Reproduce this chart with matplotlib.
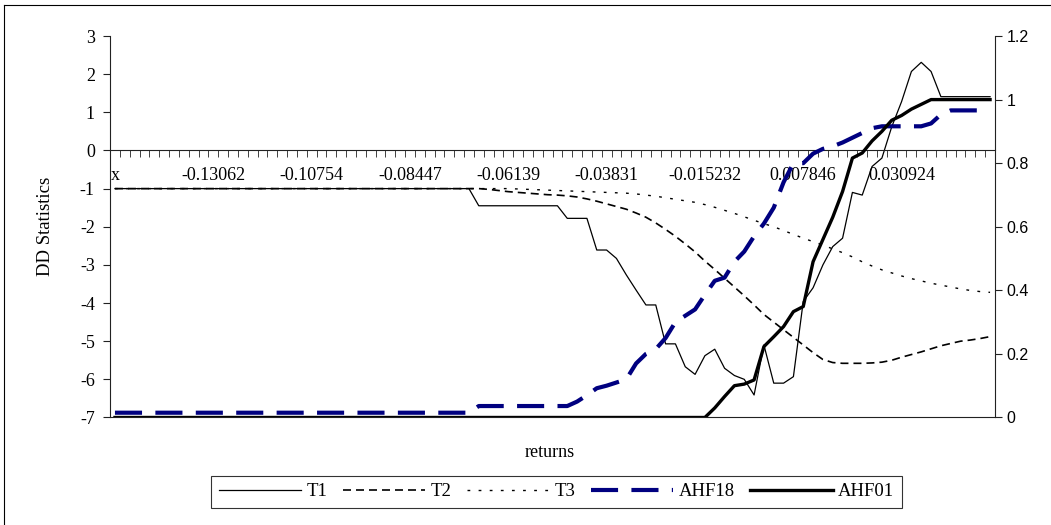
import matplotlib
matplotlib.use("Agg")
import matplotlib.pyplot as plt
from matplotlib.lines import Line2D
import numpy as np

# category labels shown every 10th category
x_labels = ["x", "-0.13062", "-0.10754", "-0.08447", "-0.06139",
            "-0.03831", "-0.015232", "0.007846", "0.030924"]

# DD statistics (left axis)
t1 = ([-1.0] * 37 + [-1.45] * 9 + [-1.78] * 3 + [-2.61] * 2 +
      [-2.83, -3.26, -3.66, -4.05, -4.05, -5.07, -5.07, -5.67, -5.87, -5.38,
       -5.21, -5.71, -5.9, -6.0, -6.41, -5.1, -6.1, -6.1, -5.93, -3.96,
       -3.6, -3.0, -2.52, -2.3, -1.1, -1.17, -0.42, -0.2, 0.62, 1.28,
       2.07, 2.31, 2.07, 1.41, 1.41, 1.41, 1.41, 1.41, 1.41])
t2 = ([-1.0] * 38 +
      [-1.02, -1.05, -1.08, -1.1, -1.12, -1.14, -1.16, -1.17, -1.19, -1.22,
       -1.27, -1.33, -1.4, -1.47, -1.54, -1.64, -1.75, -1.9, -2.07, -2.25,
       -2.45, -2.66, -2.9, -3.12, -3.35, -3.58, -3.81, -4.05, -4.3, -4.5,
       -4.7, -4.9, -5.1, -5.3, -5.48, -5.56, -5.58, -5.58, -5.58, -5.57,
       -5.55, -5.5, -5.42, -5.35, -5.28, -5.2, -5.12, -5.06, -5.0, -4.97,
       -4.93, -4.88])
t3 = ([-1.0] * 41 +
      [-1.01, -1.02, -1.03, -1.04, -1.05, -1.06, -1.07, -1.08, -1.09, -1.1,
       -1.11, -1.12, -1.14, -1.17, -1.2, -1.24, -1.28, -1.32, -1.36, -1.42,
       -1.49, -1.57, -1.65, -1.74, -1.83, -1.92, -2.0, -2.1, -2.2, -2.3,
       -2.39, -2.48, -2.58, -2.68, -2.79, -2.92, -3.03, -3.13, -3.21, -3.29,
       -3.36, -3.42, -3.48, -3.53, -3.58, -3.63, -3.67, -3.7, -3.72])

# AHF series (right axis)
ahf18 = ([0.015] * 37 + [0.036] * 10 +
         [0.05, 0.07, 0.092, 0.1, 0.11, 0.12, 0.17, 0.2, 0.215, 0.25,
          0.3, 0.32, 0.34, 0.386, 0.43, 0.44, 0.49, 0.522, 0.57, 0.61,
          0.66, 0.74, 0.8, 0.8, 0.83, 0.845, 0.853, 0.865, 0.88, 0.895,
          0.91, 0.916, 0.916, 0.916, 0.916, 0.916, 0.925, 0.953, 0.966, 0.966,
          0.966, 0.966, 0.966])
ahf01 = ([0.0] * 61 +
         [0.03, 0.066, 0.1, 0.105, 0.118, 0.223, 0.254, 0.286, 0.333, 0.349,
          0.49, 0.56, 0.63, 0.711, 0.816, 0.832, 0.87, 0.9, 0.935, 0.95,
          0.97, 0.985, 1.0, 1.0, 1.0, 1.0, 1.0, 1.0, 1.0])

serif = "Liberation Serif"
sans = "Liberation Sans"

x = np.arange(len(t1))

fig = plt.figure(figsize=(10.51, 5.25), dpi=100)
ax = fig.add_axes([0.1047, 0.2048, 0.8420, 0.7266])
ax2 = ax.twinx()

l1, = ax.plot(x, t1, color="black", lw=0.9)
l2, = ax.plot(x, t2, color="black", lw=1.2, dashes=(4.8, 3))
l3, = ax.plot(x, t3, color="black", lw=1.0, dashes=(2, 6))
l4, = ax2.plot(x, ahf18, color="#000080", lw=3, dashes=(6.5, 3.2))
l5, = ax2.plot(x, ahf01, color="black", lw=2.4)

ax.set_xlim(-0.5, len(x) - 0.5)
ax.set_ylim(-7, 3)
ax2.set_ylim(0, 1.2)

# category axis crosses at 0
ax.spines["bottom"].set_position(("data", 0))
ax.spines["top"].set_visible(False)
ax.spines["right"].set_visible(False)
ax2.spines["top"].set_visible(False)
ax2.spines["left"].set_visible(False)
for sp in ["left", "bottom"]:
    ax.spines[sp].set_color("#222222")
for sp in ["right", "bottom"]:
    ax2.spines[sp].set_color("#222222")

ax.set_xticks(range(0, len(x), 10))
ax.set_xticklabels(x_labels, fontfamily=serif, fontsize=13)
ax.set_xticks(np.arange(-0.5, len(x), 1), minor=True)
ax.tick_params(axis="x", which="major", length=0, pad=12)
ax.tick_params(axis="x", which="minor", length=5, direction="out", color="#222222")

ax.set_yticks(range(-7, 4))
ax.set_yticklabels([str(v) for v in range(-7, 4)], fontfamily=serif, fontsize=13)
ax.tick_params(axis="y", length=5, direction="out", color="#222222", pad=6)

r_ticks = [0, 0.2, 0.4, 0.6, 0.8, 1.0, 1.2]
ax2.set_yticks(r_ticks)
ax2.set_yticklabels(["0", "0.2", "0.4", "0.6", "0.8", "1", "1.2"],
                    fontfamily=sans, fontsize=11.5)
ax2.tick_params(axis="y", length=5, direction="out", color="#222222")

fig.text(0.043, 0.568, "DD Statistics", rotation=90, ha="center", va="center",
         fontfamily=serif, fontsize=13.5)
fig.text(0.523, 0.139, "returns", ha="center", va="center",
         fontfamily=serif, fontsize=13)

leg = fig.legend([l1, l2, l3, l4, l5], ["T1", "T2", "T3", "AHF18", "AHF01"],
                 loc="center", bbox_to_anchor=(0.5295, 0.0635), ncol=5,
                 frameon=True, fancybox=False, handlelength=4.4,
                 handletextpad=0.3, columnspacing=0.8, borderpad=0.4,
                 prop={"family": serif, "size": 13.5})
leg.get_frame().set_edgecolor("black")
leg.get_frame().set_linewidth(0.8)

# outer chart border (left and top)
fig.add_artist(Line2D([0.004, 0.004], [0.0, 0.99], color="black", lw=0.8))
fig.add_artist(Line2D([0.004, 1.0], [0.99, 0.99], color="black", lw=0.8))

fig.savefig("out.png", dpi=100)
